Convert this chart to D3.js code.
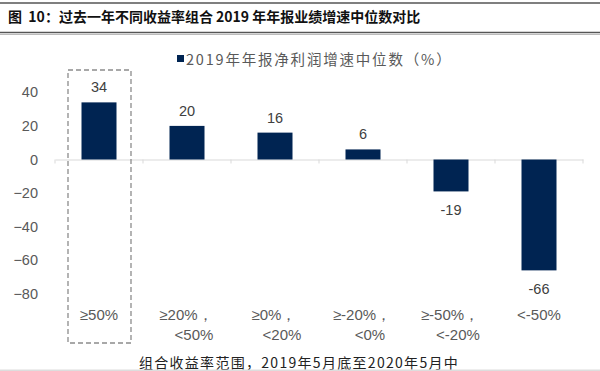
<!DOCTYPE html>
<html><head><meta charset="utf-8">
<script src="https://cdn.jsdelivr.net/npm/d3@7"></script>
<style>body{margin:0;background:#fff}svg{display:block}</style>
</head><body>
<script>
const categories = [["≥50%"], ["≥20%，", "<50%"], ["≥0%，", "<20%"], ["≥-20%，", "<0%"], ["≥-50%，", "<-20%"], ["<-50%"]];
const values = [34, 20, 16, 6, -19, -66];
const yTicks = [40, 20, 0, -20, -40, -60, -80];
const seriesName = "2019年年报净利润增速中位数（%）";
const title = "图\u00a0\u00a010：过去一年不同收益率组合 2019 年年报业绩增速中位数对比";
const xTitle = "组合收益率范围，2019年5月底至2020年5月中";

const W = 600, H = 371;
const svg = d3.select("body").append("svg").attr("width", W).attr("height", H);
const sans = "Liberation Sans, Arial, sans-serif";
const cjk = "'Noto Sans CJK SC', sans-serif";

// title bar
svg.append("line").attr("x1",0).attr("x2",W).attr("y1",3).attr("y2",3).attr("stroke","#555").attr("stroke-width",1.5);
svg.append("line").attr("x1",0).attr("x2",W).attr("y1",32.5).attr("y2",32.5).attr("stroke","#555").attr("stroke-width",1.5);
svg.append("line").attr("x1",0).attr("x2",W).attr("y1",34.5).attr("y2",34.5).attr("stroke","#bbb").attr("stroke-width",1);
svg.append("text").attr("x",8).attr("y",22)
  .attr("font-family",cjk).attr("font-weight","bold").attr("font-size",14).attr("fill","#111").text(title);

const x = d3.scaleBand().domain(d3.range(categories.length)).range([55, 583]).paddingInner(0).paddingOuter(0);
const y = d3.scaleLinear().domain([-100, 60]).range([327.5, 58.7]);
const barW = 35;

// zero axis
const xAxis = d3.axisBottom(x).tickSize(0).tickFormat("");
const ax = svg.append("g").attr("transform",`translate(0,${y(0)})`).call(xAxis);
ax.select(".domain").attr("stroke","#d9d9d9");
svg.selectAll(".ctick").data(d3.range(categories.length+1)).enter().append("line")
  .attr("x1",i=>55+i*x.bandwidth()).attr("x2",i=>55+i*x.bandwidth())
  .attr("y1",y(0)).attr("y2",y(0)+4).attr("stroke","#d9d9d9");

// y axis labels
const yAxis = d3.axisLeft(y).tickValues(yTicks).tickSize(0).tickPadding(0);
const ya = svg.append("g").attr("transform","translate(38,0)").call(yAxis);
ya.select(".domain").remove();
ya.selectAll("text").attr("font-family",sans).attr("font-size",14.5).attr("fill","#595959");

// bars
svg.selectAll(".bar").data(values).enter().append("rect")
  .attr("x",(d,i)=>x(i)+x.bandwidth()/2-barW/2)
  .attr("width",barW)
  .attr("y",d=>y(Math.max(0,d)))
  .attr("height",d=>Math.abs(y(d)-y(0)))
  .attr("fill","#002452");

// value labels
svg.selectAll(".vl").data(values).enter().append("text")
  .attr("x",(d,i)=>x(i)+x.bandwidth()/2)
  .attr("y",d=> d>=0 ? y(d)-10 : y(d)+24)
  .attr("text-anchor","middle").attr("font-family",sans).attr("font-size",14.5).attr("fill","#404040")
  .text(d=>d);

// category labels
categories.forEach((lines,i)=>{
  const t = svg.append("text").attr("font-family",sans).attr("font-size",15).attr("fill","#595959").attr("text-anchor","middle");
  lines.forEach((l,j)=>{
    t.append("tspan").attr("x",x(i)+x.bandwidth()/2 + (lines.length>1 ? (j==0?-1:7):0)).attr("y",320+j*20).text(l);
  });
});

// dashed highlight box
svg.append("rect").attr("x",68).attr("y",70).attr("width",63).attr("height",273)
  .attr("fill","none").attr("stroke","#8c8c8c").attr("stroke-width",1.3).attr("stroke-dasharray","5,3");

// legend
svg.append("rect").attr("x",177).attr("y",55).attr("width",7).attr("height",7).attr("fill","#002452");
svg.append("text").attr("x",186).attr("y",65).attr("font-family",cjk).attr("font-size",14.5).attr("letter-spacing",1.8).attr("fill","#595959").text(seriesName);

// x title
svg.append("text").attr("x",299).attr("y",368).attr("text-anchor","middle").attr("font-family",cjk).attr("font-size",14).attr("letter-spacing",1.3).attr("fill","#222").text(xTitle);
// bottom band
svg.append("rect").attr("x",0).attr("y",369.5).attr("width",W).attr("height",1.5).attr("fill","#ddd");
</script>
</body></html>
